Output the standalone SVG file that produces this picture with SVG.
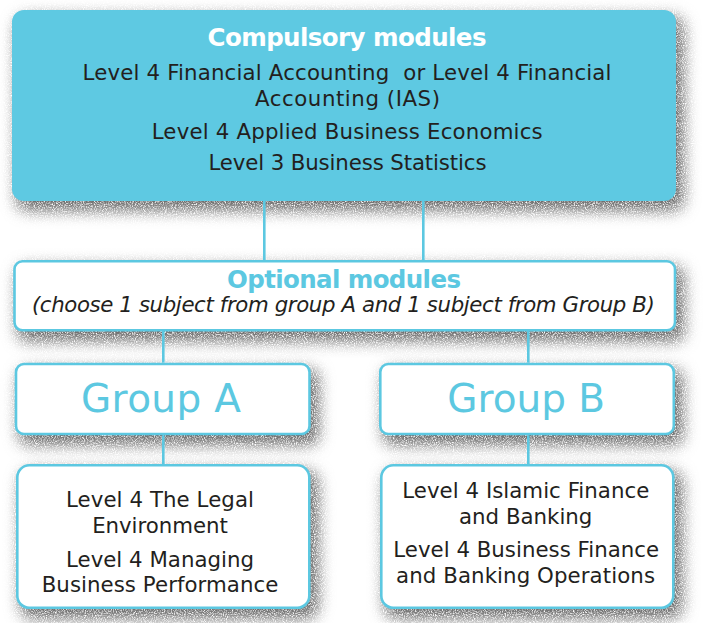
<svg xmlns="http://www.w3.org/2000/svg" width="705" height="623" viewBox="0 0 705 623">
  <style>
    .t { font-family: "DejaVu Sans", "Liberation Sans", sans-serif; font-size: 21.3px; fill: #231f20; text-anchor: middle; }
    .h { font-family: "DejaVu Sans", "Liberation Sans", sans-serif; font-size: 24.5px; font-weight: bold; text-anchor: middle; }
    .g { font-family: "DejaVu Sans", "Liberation Sans", sans-serif; font-size: 39px; fill: #5cc8e1; text-anchor: middle; }
    .box { fill: #ffffff; stroke: #5cc8e1; stroke-width: 2.6; }
    .conn { stroke: #5cc8e1; stroke-width: 2.6; fill: none; }
  </style>
  <defs>
    <filter id="sh" x="-10%" y="-30%" width="125%" height="170%" color-interpolation-filters="sRGB">
      <feMorphology in="SourceAlpha" operator="dilate" radius="2" result="d"/>
      <feGaussianBlur in="d" stdDeviation="7.5" result="b"/>
      <feOffset in="b" dx="6" dy="8" result="o"/>
      <feTurbulence type="fractalNoise" baseFrequency="0.9" numOctaves="2" seed="3" result="n"/>
      <feColorMatrix in="n" type="matrix" values="0 0 0 0 0.38  0 0 0 0 0.38  0 0 0 0 0.38  2.6 0 0 0 -0.5" result="ng"/>
      <feComposite in="ng" in2="o" operator="in" result="s"/>
      <feMerge>
        <feMergeNode in="s"/>
        <feMergeNode in="SourceGraphic"/>
      </feMerge>
    </filter>
  </defs>
  <rect width="705" height="623" fill="#ffffff"/>

  <g id="compulsory">
    <rect x="12" y="10" width="664" height="191" rx="12" fill="#5ec9e2" filter="url(#sh)"/>
    <text class="h" x="347" y="46" fill="#ffffff" textLength="279">Compulsory modules</text>
    <text class="t" x="347" y="79.5" xml:space="preserve" textLength="529">Level 4 Financial Accounting  or Level 4 Financial</text>
    <text class="t" x="347.5" y="106" textLength="185">Accounting (IAS)</text>
    <text class="t" x="347.2" y="138.5" textLength="391">Level 4 Applied Business Economics</text>
    <text class="t" x="347.5" y="170" textLength="278">Level 3 Business Statistics</text>
  </g>

  <g id="optional">
    <rect class="box" x="14.5" y="261.3" width="660.5" height="69" rx="8" filter="url(#sh)"/>
    <text class="h" x="344" y="287.5" fill="#5cc8e1" textLength="234">Optional modules</text>
    <text class="t" x="343.4" y="311.7" font-style="italic" textLength="623">(choose 1 subject from group A and 1 subject from Group B)</text>
  </g>

  <g id="group-a">
    <rect class="box" x="16" y="364" width="293.5" height="70" rx="8" filter="url(#sh)"/>
    <text class="g" x="161" y="411.7" textLength="160">Group A</text>
  </g>

  <g id="group-b">
    <rect class="box" x="380.3" y="364" width="293.5" height="70" rx="8" filter="url(#sh)"/>
    <text class="g" x="526.2" y="411.7" textLength="157.7">Group B</text>
  </g>

  <g id="subjects-a">
    <rect class="box" x="17.3" y="465.3" width="292" height="142.5" rx="12" filter="url(#sh)"/>
    <text class="t" x="160" y="507.3" textLength="188">Level 4 The Legal</text>
    <text class="t" x="160" y="533.3" textLength="135.7">Environment</text>
    <text class="t" x="160" y="566.7" textLength="188">Level 4 Managing</text>
    <text class="t" x="160" y="592.3" textLength="236.6">Business Performance</text>
  </g>

  <g id="subjects-b">
    <rect class="box" x="381.3" y="465.3" width="292" height="142.5" rx="12" filter="url(#sh)"/>
    <text class="t" x="525.8" y="498.3" textLength="247">Level 4 Islamic Finance</text>
    <text class="t" x="525.7" y="524" textLength="133.3">and Banking</text>
    <text class="t" x="526.2" y="557.3" textLength="265.7">Level 4 Business Finance</text>
    <text class="t" x="525.5" y="582.7" textLength="259">and Banking Operations</text>
  </g>

  <g id="connectors">
    <line class="conn" x1="264.3" y1="201" x2="264.3" y2="260"/>
    <line class="conn" x1="423.3" y1="201" x2="423.3" y2="260"/>
    <line class="conn" x1="163.3" y1="330.8" x2="163.3" y2="362.7"/>
    <line class="conn" x1="528.3" y1="330.8" x2="528.3" y2="362.7"/>
    <line class="conn" x1="163.3" y1="435.3" x2="163.3" y2="464"/>
    <line class="conn" x1="528.3" y1="435.3" x2="528.3" y2="464"/>
  </g>
</svg>
